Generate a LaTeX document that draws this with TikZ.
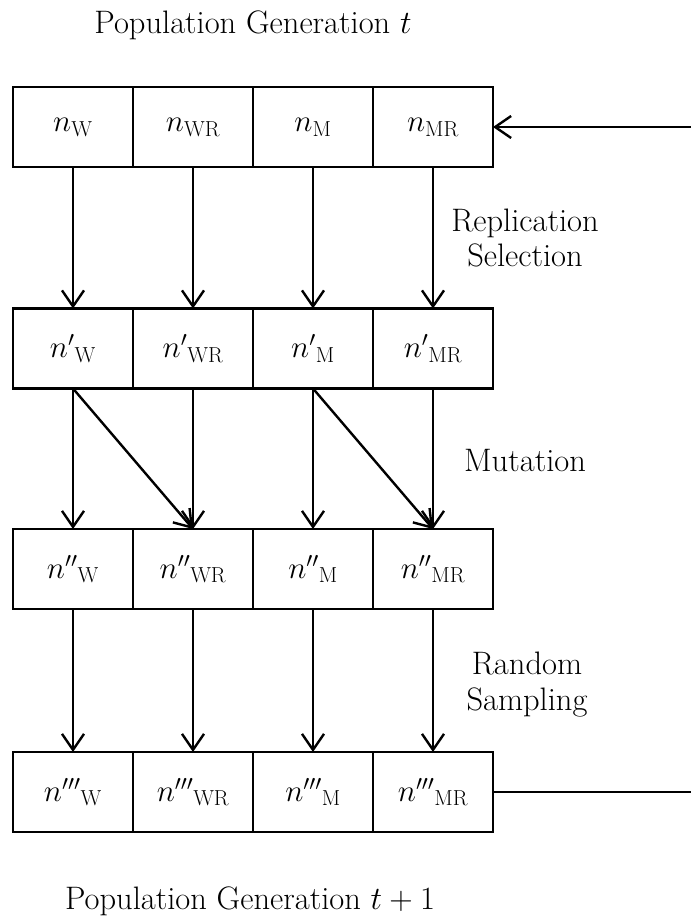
\RequirePackage{fix-cm}
\documentclass[tikz,border=0pt]{standalone}
\usetikzlibrary{arrows.meta}
\begin{document}
\begin{tikzpicture}[x=1pt,y=-1pt,
  font=\fontsize{32.5}{35}\selectfont,
  cell/.style={draw,line width=2.4pt,minimum width=120pt,minimum height=80pt,inner sep=0pt,outer sep=0pt,font=\fontsize{31}{35}\selectfont},
  conn/.style={line width=2.4pt},
  arr/.style={line width=2.4pt,-{Straight Barb[length=16pt,width=22pt]}},
  lab/.style={anchor=base,inner sep=0pt}]
\useasboundingbox (0,0) rectangle (691,919);
% row 1
\node[cell] (r1c1) at (73,127)  {$n_{\mathrm{W}}$};
\node[cell] (r1c2) at (193,127) {$n_{\mathrm{WR}}$};
\node[cell] (r1c3) at (313,127) {$n_{\mathrm{M}}$};
\node[cell] (r1c4) at (433,127) {$n_{\mathrm{MR}}$};
% row 2
\node[cell] (r2c1) at (73,348.5)  {${n'}_{\mathrm{W}}$};
\node[cell] (r2c2) at (193,348.5) {${n'}_{\mathrm{WR}}$};
\node[cell] (r2c3) at (313,348.5) {${n'}_{\mathrm{M}}$};
\node[cell] (r2c4) at (433,348.5) {${n'}_{\mathrm{MR}}$};
% row 3
\node[cell] (r3c1) at (73,569)  {${n''}_{\mathrm{W}}$};
\node[cell] (r3c2) at (193,569) {${n''}_{\mathrm{WR}}$};
\node[cell] (r3c3) at (313,569) {${n''}_{\mathrm{M}}$};
\node[cell] (r3c4) at (433,569) {${n''}_{\mathrm{MR}}$};
% row 4
\node[cell] (r4c1) at (73,792)  {${n'''}_{\mathrm{W}}$};
\node[cell] (r4c2) at (193,792) {${n'''}_{\mathrm{WR}}$};
\node[cell] (r4c3) at (313,792) {${n'''}_{\mathrm{M}}$};
\node[cell] (r4c4) at (433,792) {${n'''}_{\mathrm{MR}}$};
% titles and labels
\node[lab] (top) at (253,33) {Population Generation $t$};
\node[lab] (bot) at (250,909) {Population Generation $t+1$};
\node[lab] (rep) at (525,231) {Replication};
\node[lab] (sel) at (525,266) {Selection};
\node[lab] (mut) at (525,471) {Mutation};
\node[lab] (ran) at (527,674) {Random};
\node[lab] (sam) at (527,710) {Sampling};
% arrows
\foreach \c in {1,2,3,4}{
  \draw[arr] (r1c\c.south) -- (r2c\c.north);
  \draw[arr] (r2c\c.south) -- (r3c\c.north);
  \draw[arr] (r3c\c.south) -- (r4c\c.north);
}
\draw[arr] (r2c1.south) -- (r3c2.north);
\draw[arr] (r2c3.south) -- (r3c4.north);
\coordinate (inp) at (691,127);
\coordinate (outp) at (691,792);
\draw[arr] (inp) -- (r1c4.east);
\draw[conn] (r4c4.east) -- (outp);
\end{tikzpicture}
\end{document}
